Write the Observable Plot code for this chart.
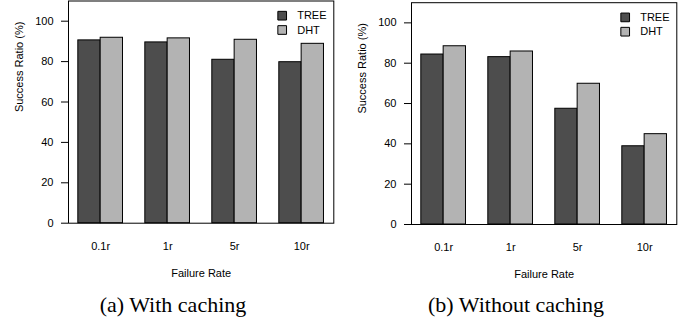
<!DOCTYPE html>
<html>
<head>
<meta charset="utf-8">
<script src="https://cdn.jsdelivr.net/npm/d3@7"></script>
<script src="https://cdn.jsdelivr.net/npm/@observablehq/plot@0.6"></script>
<style>
  html, body { margin: 0; padding: 0; background: white; }
  #wrap { display: flex; flex-direction: row; width: 686px; height: 320px; overflow: hidden; }
  .panel { width: 343px; }
  .panel svg { display: block; }
  .caption { font-family: "Liberation Serif", "Times New Roman", serif; font-size: 22px; line-height: 25px; text-align: center; padding-left: 3px; color: black; white-space: nowrap; }
</style>
</head>
<body>
<div id="wrap">
  <div class="panel" id="pa"></div>
  <div class="panel" id="pb"></div>
</div>
<script>
const categories = ["0.1r", "1r", "5r", "10r"];
const series = ["TREE", "DHT"];
const withCachingTREE = [90.5, 89.5, 80.9, 79.7];
const withCachingDHT = [91.8, 91.5, 90.8, 88.8];
const withoutCachingTREE = [84.3, 83.0, 57.4, 38.8];
const withoutCachingDHT = [88.4, 85.8, 69.8, 44.8];
const yTicks = [0, 20, 40, 60, 80, 100];
const xLabel = "Failure Rate";
const yLabel = "Success Ratio (%)";
const captions = ["(a) With caching", "(b) Without caching"];
const colors = ["#4d4d4d", "#b3b3b3"];

function makeRows(valuesBySeries) {
  return categories.flatMap((c, i) => series.map((s, j) => ({
    category: c, series: s, value: valuesBySeries[j][i], slot: 1 + 3 * i + j
  })));
}

function makeChart(valuesBySeries, marginTop, marginBottom) {
  const rows = makeRows(valuesBySeries);
  const legendMarks = series.flatMap((s, i) => [
    Plot.dot([s], {frameAnchor: "top-right", dx: -51.6, dy: 14.7 + 14.3 * i, symbol: "square", r: 4.9, fill: colors[i], stroke: "black", strokeWidth: 1}),
    Plot.text([s], {text: d => d, frameAnchor: "top-right", dx: -36.6, dy: 14.7 + 14.3 * i, textAnchor: "start", lineAnchor: "middle", fontSize: 11, fill: "black"})
  ]);
  return Plot.plot({
    width: 343,
    height: 292,
    marginLeft: 68,
    marginRight: 9.7,
    marginTop,
    marginBottom,
    style: {fontFamily: "'Liberation Sans', Arial, sans-serif", fontSize: "11px", color: "black", background: "white", overflow: "visible"},
    x: {
      domain: [0.56, 12.44],
      ticks: categories.map((c, i) => 2 + 3 * i),
      tickFormat: v => categories[Math.round((v - 2) / 3)],
      tickSize: 0,
      tickPadding: 19,
      label: null
    },
    y: {
      domain: [0, 110],
      ticks: yTicks,
      tickSize: 7,
      tickPadding: 8,
      label: null
    },
    color: {domain: series, range: colors},
    marks: [
      Plot.rectY(rows, {x1: "slot", x2: d => d.slot + 1, y: "value", fill: "series", stroke: "black", strokeWidth: 1}),
      Plot.frame({stroke: "black", strokeWidth: 1}),
      Plot.text([xLabel], {text: d => d, frameAnchor: "bottom", dy: 50.3, lineAnchor: "middle", fontSize: 11, fill: "black"}),
      Plot.text([yLabel], {text: d => d, frameAnchor: "left", dx: -49, rotate: -90, lineAnchor: "middle", fontSize: 11, fill: "black"}),
      ...legendMarks
    ]
  });
}

const panels = [
  {el: "pa", values: [withCachingTREE, withCachingDHT], top: 0.5, bottom: 69.3},
  {el: "pb", values: [withoutCachingTREE, withoutCachingDHT], top: 2.2, bottom: 68}
];
panels.forEach((p, k) => {
  const host = document.getElementById(p.el);
  host.appendChild(makeChart(p.values, p.top, p.bottom));
  const cap = document.createElement("div");
  cap.className = "caption";
  cap.textContent = captions[k];
  host.appendChild(cap);
});
</script>
</body>
</html>
